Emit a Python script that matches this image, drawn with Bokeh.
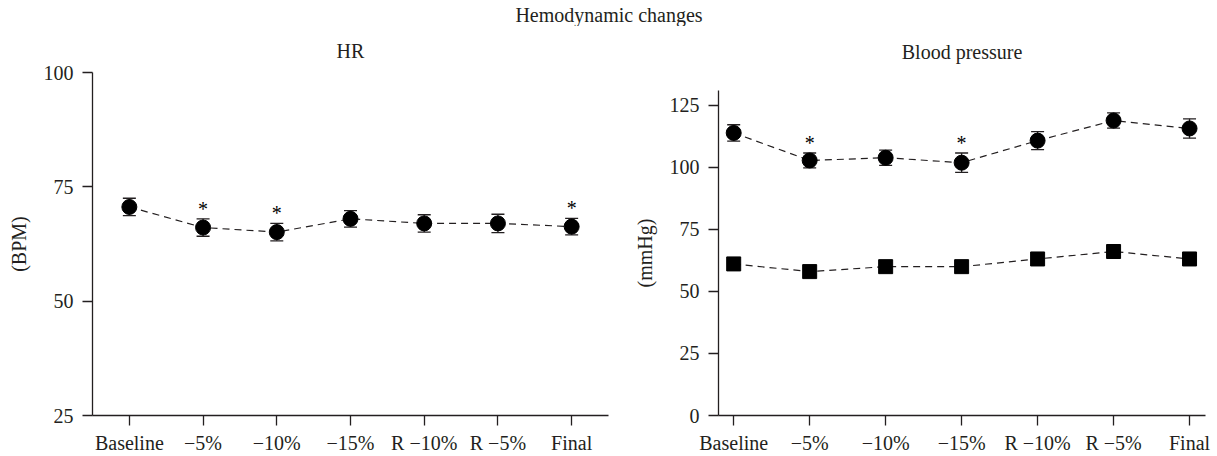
from bokeh.plotting import figure
from bokeh.models import FixedTicker, Whisker, ColumnDataSource, TeeHead, Range1d, Title
from bokeh.layouts import column, row
from bokeh.core.properties import value
from bokeh.embed import file_html
from bokeh.resources import INLINE

FONT = "Liberation Serif"
INK = "#231f20"
FS = "20px"

# ---- data ----
main_title = "Hemodynamic changes"
hr_title = "HR"
bp_title = "Blood pressure"
categories = ["Baseline", "\u22125%", "\u221210%", "\u221215%", "R \u221210%", "R \u22125%", "Final"]
hr_mean = [70.6, 66.1, 65.1, 68.0, 67.0, 67.0, 66.3]
hr_sem = [1.9, 1.9, 1.9, 1.8, 1.9, 2.0, 1.8]
hr_sig = [False, True, True, False, False, False, True]
sbp_mean = [113.9, 102.8, 103.9, 101.9, 110.8, 118.9, 115.7]
sbp_sem = [3.3, 3.0, 3.1, 3.9, 3.6, 3.1, 3.9]
sbp_sig = [False, True, False, True, False, False, False]
dbp_mean = [61.1, 58.0, 60.0, 60.0, 63.1, 66.1, 63.1]
hr_yticks = [25, 50, 75, 100]
bp_yticks = [0, 25, 50, 75, 100, 125]

xs = list(range(len(categories)))

# ---- layout constants (pixels) ----
W, H = 1217, 456
MAIN_H = 26
W1 = 628
W2 = W - W1
L1, R1 = 92, 20          # left panel borders
L2, R2 = 90, 12          # right panel borders
BOTTOM = 39
BP_STRIP_H = 38


def clean(p):
    p.outline_line_color = None
    p.xgrid.visible = False
    p.ygrid.visible = False
    p.background_fill_color = None
    p.border_fill_color = None


def style(p, yticks, ylabel):
    clean(p)
    for ax in (p.xaxis[0], p.yaxis[0]):
        ax.axis_line_color = INK
        ax.axis_line_width = 1.3
        ax.major_tick_line_color = INK
        ax.major_tick_line_width = 1.3
        ax.major_tick_in = 0
        ax.major_tick_out = 10
        ax.minor_tick_line_color = None
        ax.major_label_text_font = FONT
        ax.major_label_text_font_size = FS
        ax.major_label_text_color = INK
    p.xaxis.ticker = FixedTicker(ticks=xs)
    p.xaxis.major_label_overrides = {i: c for i, c in enumerate(categories)}
    p.xaxis.major_label_standoff = 6
    p.yaxis.ticker = FixedTicker(ticks=yticks)
    p.yaxis.major_label_standoff = 9
    p.yaxis.axis_label = ylabel
    p.yaxis.axis_label_text_font = FONT
    p.yaxis.axis_label_text_font_size = FS
    p.yaxis.axis_label_text_font_style = "normal"
    p.yaxis.axis_label_text_color = INK
    p.yaxis.axis_label_standoff = 11


def series(p, mean, sem, sig, marker, size):
    src = ColumnDataSource(dict(
        x=xs, y=mean,
        upper=[m + s for m, s in zip(mean, sem)] if sem else mean,
        lower=[m - s for m, s in zip(mean, sem)] if sem else mean,
    ))
    p.line("x", "y", source=src, line_color=INK, line_width=1.2, line_dash="7 5")
    if sem:
        w = Whisker(source=src, base="x", upper="upper", lower="lower",
                    line_color=INK, line_width=1.3,
                    upper_head=TeeHead(size=13, line_color=INK, line_width=1.3),
                    lower_head=TeeHead(size=13, line_color=INK, line_width=1.3))
        p.add_layout(w)
    p.scatter("x", "y", source=src, marker=marker, size=size,
              fill_color="black", line_color="black")
    if sig:
        sx = [x for x, f in zip(xs, sig) if f]
        sy = [m + s for m, s, f in zip(mean, sem, sig) if f]
        p.text(x=sx, y=sy, text=["*"] * len(sx), text_font=value(FONT),
               text_font_size=FS, text_align="center", text_baseline="alphabetic",
               y_offset=-10, text_color="black")


def strip(width, height):
    s = figure(width=width, height=height, x_range=Range1d(0, width), y_range=Range1d(height, 0),
               output_backend="svg", toolbar_location=None, frame_align=False,
               x_axis_location=None, y_axis_location=None, min_border=0)
    clean(s)
    return s


# ---- main title strip ----
top = strip(W, MAIN_H)
top.text(x=[W / 2], y=[14.5], text=[main_title], text_font=value(FONT),
         text_font_size=FS, text_align="center", text_baseline="middle", text_color=INK)

# ---- HR panel ----
p1 = figure(width=W1, height=H - MAIN_H, x_range=(-0.5, 6.5), y_range=(25, 100),
            output_backend="svg", toolbar_location=None, frame_align=False,
            min_border_left=L1, min_border_right=R1, min_border_top=72 - MAIN_H,
            min_border_bottom=BOTTOM)
p1.title = Title(text=hr_title, align="center", text_font=FONT, text_font_size=FS,
                 text_font_style="normal", text_color=INK, standoff=21)
style(p1, hr_yticks, "(BPM)")
series(p1, hr_mean, hr_sem, hr_sig, "circle", 15)

# ---- Blood pressure title strip + panel ----
bp_top = strip(W2, BP_STRIP_H)
bp_top.text(x=[(L2 + (W2 - R2)) / 2], y=[51.5 - MAIN_H], text=[bp_title], text_font=value(FONT),
            text_font_size=FS, text_align="center", text_baseline="middle", text_color=INK)

p2 = figure(width=W2, height=H - MAIN_H - BP_STRIP_H, x_range=(-0.2, 6.21), y_range=(0, 131),
            output_backend="svg", toolbar_location=None, frame_align=False,
            min_border_left=L2, min_border_right=R2, min_border_top=90 - MAIN_H - BP_STRIP_H,
            min_border_bottom=BOTTOM)
style(p2, bp_yticks, "(mmHg)")
series(p2, sbp_mean, sbp_sem, sbp_sig, "circle", 15)
series(p2, dbp_mean, None, None, "square", 14)

layout = column(top, row(p1, column(bp_top, p2)))
open("out.html", "w").write(file_html(layout, INLINE))
